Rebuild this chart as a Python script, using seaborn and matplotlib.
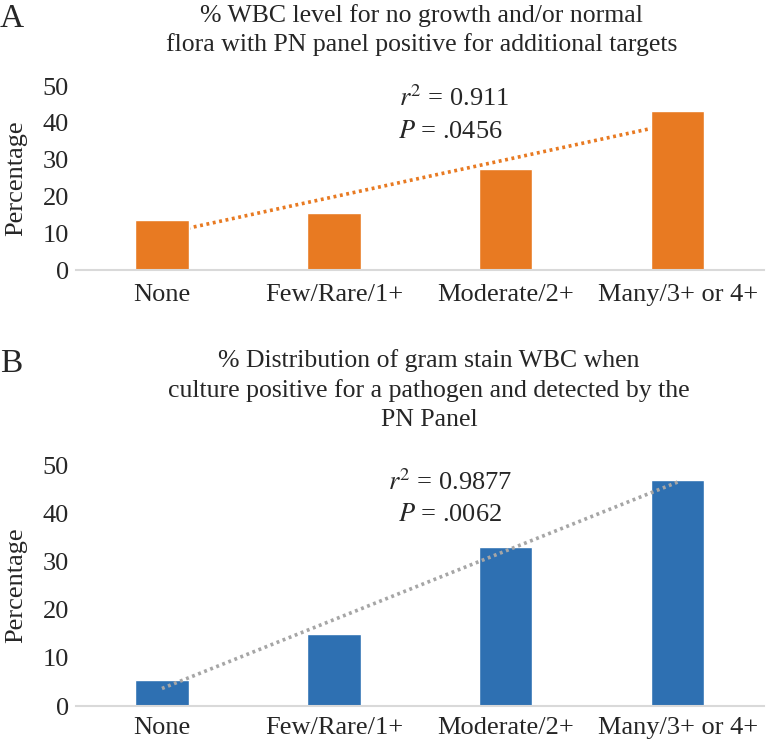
import numpy as np
import pandas as pd
import seaborn as sns
import matplotlib.pyplot as plt

# data
categories = ["None", "Few/Rare/1+", "Moderate/2+", "Many/3+ or 4+"]
pct_a = [13.6, 15.6, 27.4, 43.2]
pct_b = [5.4, 14.9, 33.0, 47.0]
title_a = "% WBC level for no growth and/or normal\nflora with PN panel positive for additional targets"
title_b = "% Distribution of gram stain WBC when\nculture positive for a pathogen and detected by the\nPN Panel"
stats_a = ("0.911", ".0456")
stats_b = ("0.9877", ".0062")

sns.set_style("white")
plt.rcParams["font.family"] = ["Liberation Serif", "DejaVu Serif"]
plt.rcParams["mathtext.fontset"] = "stix"

fig = plt.figure(figsize=(7.73, 7.42), dpi=100)
ax_a = fig.add_axes([0.0983, 0.636, 0.8897, 0.248])
ax_b = fig.add_axes([0.0983, 0.0485, 0.8897, 0.3245])

def draw_panel(ax, vals, bar_color, line_color, line_on_top, xpad):
    df = pd.DataFrame({"level": categories, "pct": vals})
    sns.barplot(data=df, x="level", y="pct", color=bar_color, width=0.31,
                saturation=1, ax=ax)
    # linear trendline over category index
    xs = np.arange(len(vals))
    slope, icpt = np.polyfit(xs, vals, 1)
    ends = np.array([xs[0], xs[-1]])
    ax.plot(ends, icpt + slope * ends, color=line_color, lw=2.6,
            linestyle=(0, (0.8, 1.0)), zorder=3 if line_on_top else 0.5)
    ax.set_xlim(-0.5, 3.5)
    ax.set_ylim(0, 50)
    ax.set_yticks([0, 10, 20, 30, 40, 50])
    ax.set_xlabel("")
    ax.set_ylabel("Percentage", fontsize=19)
    ax.yaxis.set_label_coords(-0.071, 0.5)
    ax.tick_params(axis="y", length=0, labelsize=19, pad=5)
    ax.tick_params(axis="x", length=0, labelsize=19, pad=xpad)
    for s in ["top", "right", "left"]:
        ax.spines[s].set_visible(False)
    ax.spines["bottom"].set_color("#d9d9d9")
    ax.spines["bottom"].set_linewidth(1.5)
    ax.set_facecolor("none")

draw_panel(ax_a, pct_a, "#e87a22", "#e87a22", False, 10)
draw_panel(ax_b, pct_b, "#2e70b2", "#a6a6a6", True, 8)

# panel letters and titles
fig.text(0.0, 0.995, "A", fontsize=24, va="top", ha="left")
fig.text(0.0, 0.53, "B", fontsize=24, va="top", ha="left")
fig.text(0.545, 0.995, title_a, fontsize=18.5, ha="center", va="top", linespacing=1.35)
fig.text(0.555, 0.53, title_b, fontsize=18.5, ha="center", va="top", linespacing=1.42)

# regression annotations
fig.text(0.588, 0.868, "$r^2$ = " + stats_a[0], fontsize=19, ha="center", va="center")
fig.text(0.583, 0.822, "$P$ = " + stats_a[1], fontsize=19, ha="center", va="center")
fig.text(0.582, 0.350, "$r^2$ = " + stats_b[0], fontsize=19, ha="center", va="center")
fig.text(0.582, 0.306, "$P$ = " + stats_b[1], fontsize=19, ha="center", va="center")

fig.savefig("out.png", dpi=100)
